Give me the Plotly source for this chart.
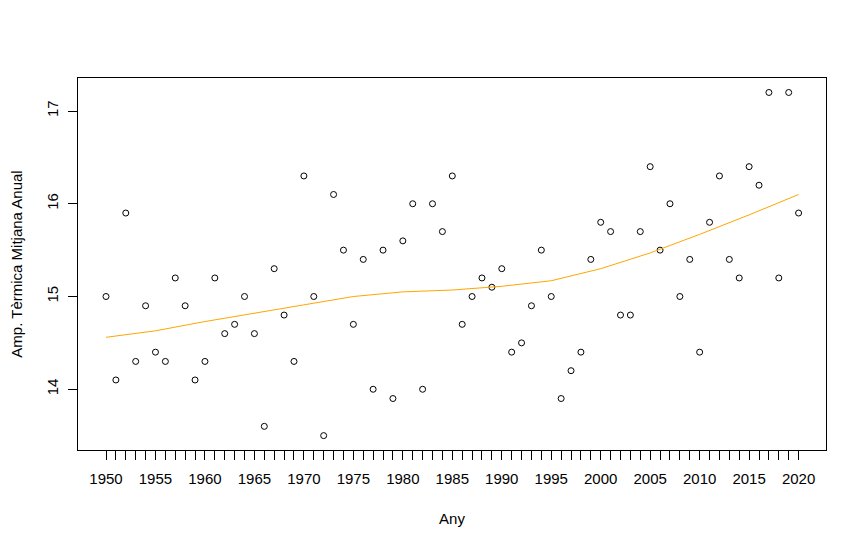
import plotly.graph_objects as go

years = list(range(1950, 2021))
amp = [15.0, 14.1, 15.9, 14.3, 14.9, 14.4, 14.3, 15.2, 14.9, 14.1,
       14.3, 15.2, 14.6, 14.7, 15.0, 14.6, 13.6, 15.3, 14.8, 14.3,
       16.3, 15.0, 13.5, 16.1, 15.5, 14.7, 15.4, 14.0, 15.5, 13.9,
       15.6, 16.0, 14.0, 16.0, 15.7, 16.3, 14.7, 15.0, 15.2, 15.1,
       15.3, 14.4, 14.5, 14.9, 15.5, 15.0, 13.9, 14.2, 14.4, 15.4,
       15.8, 15.7, 14.8, 14.8, 15.7, 16.4, 15.5, 16.0, 15.0, 15.4,
       14.4, 15.8, 16.3, 15.4, 15.2, 16.4, 16.2, 17.2, 15.2, 17.2,
       15.9]

smooth_years = [1950, 1955, 1960, 1965, 1970, 1975, 1980, 1985, 1990, 1995,
                2000, 2005, 2010, 2015, 2020]
smooth_vals = [14.56, 14.63, 14.73, 14.82, 14.91, 15.00, 15.05, 15.07, 15.11, 15.17,
               15.30, 15.47, 15.67, 15.88, 16.10]

x_tick_vals = years
x_tick_text = [str(y) if y % 5 == 0 else "" for y in years]
y_tick_vals = [14, 15, 16, 17]
y_tick_text = ["14", "15", "16", "17"]

fig = go.Figure()
fig.add_trace(go.Scatter(
    x=years, y=amp, mode="markers",
    marker=dict(symbol="circle-open", size=6, color="black", line=dict(width=1, color="black")),
    showlegend=False, hoverinfo="x+y"))
fig.add_trace(go.Scatter(
    x=smooth_years, y=smooth_vals, mode="lines",
    line=dict(color="#FFA500", width=1),
    showlegend=False))

font = dict(family="Liberation Sans, Arial, sans-serif", size=15, color="black")

fig.update_layout(
    width=866, height=548,
    paper_bgcolor="white", plot_bgcolor="white",
    margin=dict(l=70, r=48, t=70, b=106),
    font=font,
    xaxis=dict(
        range=[1947.17, 2022.77], tickmode="array", tickvals=x_tick_vals, ticktext=x_tick_text,
        ticks="outside", ticklen=9, tickwidth=1, tickcolor="black", ticklabelstandoff=6,
        showline=True, linecolor="black", linewidth=1, mirror=True, automargin=False,
        showgrid=False, zeroline=False, tickfont=font,
        title=dict(text="Any", font=font, standoff=27)),
    yaxis=dict(
        range=[13.345, 17.356], tickmode="array", tickvals=y_tick_vals, ticktext=y_tick_text,
        ticks="outside", ticklen=9, tickwidth=1, tickcolor="black", tickangle=-90,
        ticklabelstandoff=4, automargin=False,
        showline=True, linecolor="black", linewidth=1, mirror=True,
        showgrid=False, zeroline=False, tickfont=font,
        title=dict(text="Amp. Tèrmica Mitjana Anual", font=font, standoff=18)),
)

fig.write_html("out.html")
